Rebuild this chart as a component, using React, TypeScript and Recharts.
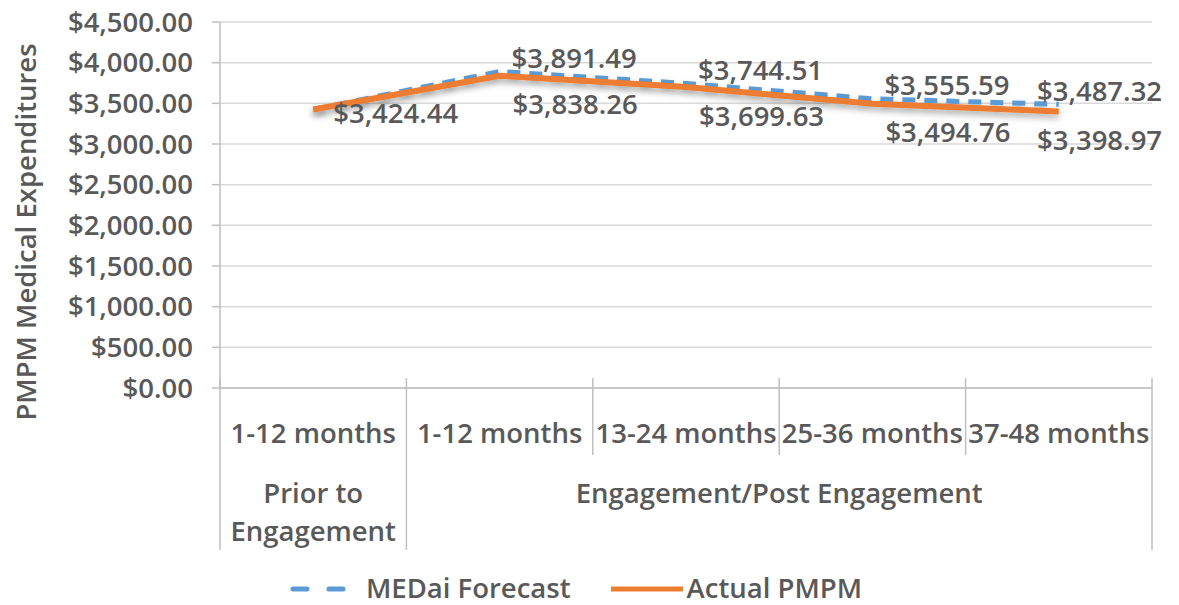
import React from 'react';
import { LineChart, Line, XAxis, YAxis, CartesianGrid, Legend, LabelList } from 'recharts';

const CATEGORIES = ['1-12 months', '1-12 months', '13-24 months', '25-36 months', '37-48 months'];
const GROUP_NAMES = [['Prior to', 'Engagement'], ['Engagement/Post Engagement']];
const GROUP_SIZES = [1, 4];
const FORECAST = [3424.44, 3891.49, 3744.51, 3555.59, 3487.32];
const ACTUAL = [3424.44, 3838.26, 3699.63, 3494.76, 3398.97];
const Y_TICKS = [0, 500, 1000, 1500, 2000, 2500, 3000, 3500, 4000, 4500];
const SERIES_NAMES = ['MEDai Forecast', 'Actual PMPM'];

const W = 1179;
const H = 605;
const MARGIN = { top: 22, right: 27, left: 0, bottom: 0 };
const Y_AXIS_W = 220;
const X_AXIS_H = 170;
const LEGEND_H = 47;
const BAND = (W - MARGIN.left - MARGIN.right - Y_AXIS_W) / CATEGORIES.length;
const LABEL_W = 134;

const FONT = '"Open Sans", sans-serif';
const TEXT = '#595959';
const AXIS = '#bfbfbf';
const GRID = '#d9d9d9';
const BLUE = '#5b9bd5';
const ORANGE = '#ed7d31';
const SERIES_COLORS = [BLUE, ORANGE];

const data = CATEGORIES.map((_, i) => ({
  slot: i,
  forecast: FORECAST[i],
  actual: ACTUAL[i],
}));

// group boundaries (index of first category in each group)
const GROUP_STARTS = GROUP_SIZES.map((_, g) => GROUP_SIZES.slice(0, g).reduce((a, b) => a + b, 0));

const money = (v: number) =>
  '$' + v.toLocaleString('en-US', { minimumFractionDigits: 2, maximumFractionDigits: 2 });

const textStyle = { fontFamily: FONT, fontSize: 27.5, fontWeight: 600, fill: TEXT };

const CategoryTick = ({ x, y, index }: any) => {
  const left = x - BAND / 2;
  const g = GROUP_STARTS.indexOf(index);
  const isLast = index === CATEGORIES.length - 1;
  return (
    <g>
      <line x1={left} x2={left} y1={y - 10} y2={y + (g >= 0 ? 162 : 67)} stroke={AXIS} strokeWidth={1.5} />
      {isLast && (
        <line x1={x + BAND / 2} x2={x + BAND / 2} y1={y - 10} y2={y + 162} stroke={AXIS} strokeWidth={1.5} />
      )}
      <text x={x} y={y + 44} textAnchor="middle" dominantBaseline="central" style={textStyle}>
        {CATEGORIES[index]}
      </text>
      {g >= 0 &&
        GROUP_NAMES[g].map((ln, k) => (
          <text
            key={k}
            x={left + (GROUP_SIZES[g] * BAND) / 2}
            y={y + 104 + k * 38}
            textAnchor="middle"
            dominantBaseline="central"
            style={textStyle}
          >
            {ln}
          </text>
        ))}
    </g>
  );
};

const YTitle = ({ viewBox }: any) => (
  <text
    transform={`translate(25, ${viewBox.y + viewBox.height / 2 + 27}) rotate(-90)`}
    textAnchor="middle"
    dominantBaseline="central"
    style={textStyle}
  >
    PMPM Medical Expenditures
  </text>
);

const forecastLabel = ({ x, y, value, index }: any) => {
  if (index === 0) return null;
  const lx = Math.min(x + 12, W - 8 - LABEL_W);
  return (
    <text x={lx} y={y - 14} dominantBaseline="central" style={textStyle}>
      {money(value)}
    </text>
  );
};

const actualLabel = ({ x, y, value, index }: any) => {
  const lx = Math.min(x + (index === 0 ? 20 : 13), W - 8 - LABEL_W);
  return (
    <text x={lx} y={y + (index === 0 ? 3 : 28)} dominantBaseline="central" style={textStyle}>
      {money(value)}
    </text>
  );
};

const LegendBox = () => (
  <div
    style={{
      display: 'flex',
      justifyContent: 'center',
      alignItems: 'center',
      height: LEGEND_H,
      paddingTop: 14,
      boxSizing: 'border-box',
      fontFamily: FONT,
      fontSize: 27.5,
      lineHeight: 1.1,
      fontWeight: 600,
      color: TEXT,
    }}
  >
    {SERIES_NAMES.map((name, i) => (
      <React.Fragment key={name}>
        <svg width={i === 0 ? 60 : 72} height={10} style={{ marginLeft: i === 0 ? 0 : 40 }}>
          <line
            x1={i === 0 ? 3 : 0}
            x2={i === 0 ? 57 : 72}
            y1={5}
            y2={5}
            stroke={SERIES_COLORS[i]}
            strokeWidth={5}
            strokeDasharray={i === 0 ? '14 22' : undefined}
            strokeLinecap={i === 0 ? 'round' : 'butt'}
          />
        </svg>
        <span style={{ marginLeft: i === 0 ? 16 : 4 }}>{name}</span>
      </React.Fragment>
    ))}
  </div>
);

export default function App() {
  return (
    <div style={{ width: W, height: H }}>
      <style>{'body{margin:0}'}</style>
      <LineChart width={W} height={H} data={data} margin={MARGIN}>
        <defs>
          <filter id="lineShadow" x="-5%" y="-100%" width="110%" height="300%">
            <feDropShadow dx="0" dy="4" stdDeviation="3" floodColor="#000" floodOpacity="0.3" />
          </filter>
        </defs>
        <CartesianGrid horizontal vertical={false} stroke={GRID} strokeWidth={1.5} />
        <XAxis
          dataKey="slot"
          type="category"
          interval={0}
          padding={{ left: BAND / 2, right: BAND / 2 }}
          tickLine={false}
          tickSize={0}
          tickMargin={0}
          axisLine={{ stroke: AXIS, strokeWidth: 1.5 }}
          height={X_AXIS_H}
          tick={<CategoryTick />}
        />
        <YAxis
          width={Y_AXIS_W}
          domain={[0, 4500]}
          ticks={Y_TICKS}
          interval={0}
          tickFormatter={money}
          axisLine={{ stroke: AXIS, strokeWidth: 1.5 }}
          tickLine={{ stroke: AXIS, strokeWidth: 1.5 }}
          tickSize={8}
          tickMargin={19}
          tick={{ ...textStyle }}
          label={<YTitle />}
        />
        <Legend verticalAlign="bottom" height={LEGEND_H} content={<LegendBox />} />
        <Line
          name={SERIES_NAMES[0]}
          dataKey="forecast"
          stroke={BLUE}
          strokeWidth={5}
          strokeDasharray="13 9"
          dot={false}
          activeDot={false}
          filter="url(#lineShadow)"
          isAnimationActive={false}
        >
          <LabelList dataKey="forecast" content={forecastLabel} />
        </Line>
        <Line
          name={SERIES_NAMES[1]}
          dataKey="actual"
          stroke={ORANGE}
          strokeWidth={6}
          dot={false}
          activeDot={false}
          filter="url(#lineShadow)"
          isAnimationActive={false}
        >
          <LabelList dataKey="actual" content={actualLabel} />
        </Line>
      </LineChart>
    </div>
  );
}
